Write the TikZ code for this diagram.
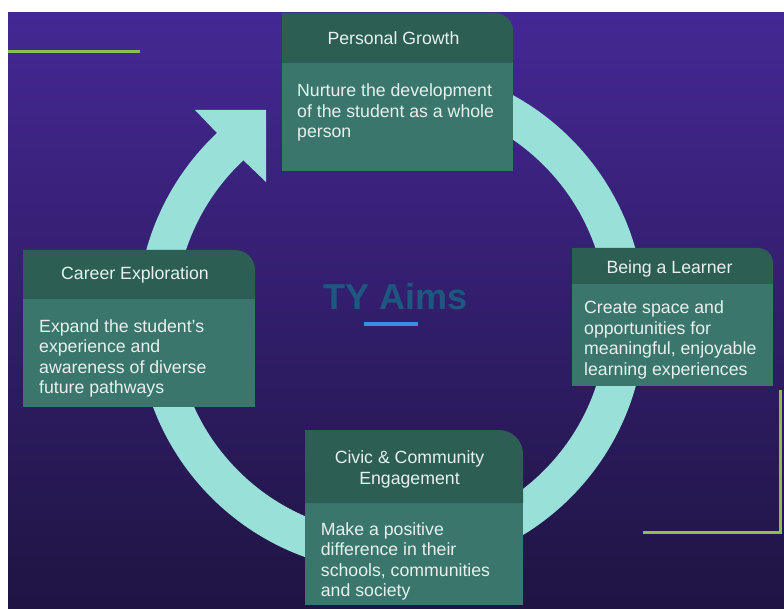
\documentclass[tikz,border=0pt]{standalone}
\usepackage{fontspec}
\setmainfont{Liberation Sans}
\usepackage{tikz}

\definecolor{bgtop}{RGB}{68,40,148}
\definecolor{bgmid}{RGB}{52,31,118}
\definecolor{bgbot}{RGB}{31,20,66}
\definecolor{ringcol}{RGB}{152,224,216}
\definecolor{headcol}{RGB}{44,94,84}
\definecolor{bodycol}{RGB}{58,118,108}
\definecolor{txtcol}{RGB}{232,240,238}
\definecolor{titlecol}{RGB}{30,88,128}
\definecolor{ulblue}{RGB}{58,142,226}
\definecolor{linegreen}{RGB}{141,192,74}

\tikzset{
    headtext/.style={text=txtcol, inner sep=0pt, font=\fontsize{17.7}{20.7}\selectfont},
    bodytext/.style={text=txtcol, inner sep=0pt, anchor=north west, align=left, font=\fontsize{17.7}{20.5}\selectfont},
    ring/.style={draw=ringcol, line width=38pt},
    greenline/.style={draw=linegreen, line width=3.3pt}
}

\begin{document}
\begin{tikzpicture}[x=1pt, y=-1pt]
    \useasboundingbox (0,0) rectangle (784,609);
    \fill[white] (0,0) rectangle (784,609);
    \shade[top color=bgtop, middle color=bgmid, bottom color=bgbot] (8,13) rectangle (784,609);
    % corner lines
    \draw[greenline] (8,51.7) -- (140,51.7);
    \draw[greenline] (780.3,390) -- (780.3,532.7) -- (643,532.7);
    % the cycle
    \coordinate (hub) at (391,318);
    \draw[ring] (hub) ++(0,-235) arc[start angle=-90, end angle=228, radius=235];
    \fill[ringcol] (266,110) -- (195,110) -- (217,133) -- (242,159) -- (266,182) -- cycle;
    % title
    \node (title) at (396,310) [anchor=base, inner sep=0pt, text=titlecol, font=\fontsize{36}{40}\selectfont\bfseries] {TY Aims};
    \fill[ulblue] (364,322) rectangle (418,326);
    % Personal Growth
    \fill[bodycol] (282,63) rectangle (513,171);
    \fill[headcol] (282,63) -- (282,13) -- (495,13) arc[start angle=-90, end angle=0, radius=18] -- (513,63) -- cycle;
    \node (personalhead) at (393.5,45) [headtext, anchor=base] {Personal Growth};
    \node (personalbody) at (297,83.8) [bodytext] {Nurture the development\\of the student as a whole\\person};
    % Being a Learner
    \fill[bodycol] (572,284) rectangle (773,386);
    \fill[headcol] (572,284) -- (572,248) -- (758,248) arc[start angle=-90, end angle=0, radius=15] -- (773,284) -- cycle;
    \node (learnerhead) at (669.5,273.3) [headtext, anchor=base] {Being a Learner};
    \node (learnerbody) at (584,300.6) [bodytext] {Create space and\\opportunities for\\meaningful, enjoyable\\learning experiences};
    % Career Exploration
    \fill[bodycol] (23,299) rectangle (255,407);
    \fill[headcol] (23,299) -- (23,250) -- (235,250) arc[start angle=-90, end angle=0, radius=20] -- (255,299) -- cycle;
    \node (careerhead) at (135,280) [headtext, anchor=base] {Career Exploration};
    \node (careerbody) at (39,319) [bodytext] {Expand the student’s\\experience and\\awareness of diverse\\future pathways};
    % Civic & Community Engagement
    \fill[bodycol] (305,503) rectangle (523,605);
    \fill[headcol] (305,503) -- (305,430) -- (499,430) arc[start angle=-90, end angle=0, radius=24] -- (523,503) -- cycle;
    \node (civichead) at (409.5,450.6) [headtext, anchor=north, align=center] {Civic \& Community\\Engagement};
    \node (civicbody) at (320.7,522.3) [bodytext] {Make a positive\\difference in their\\schools, communities\\and society};
\end{tikzpicture}
\end{document}
